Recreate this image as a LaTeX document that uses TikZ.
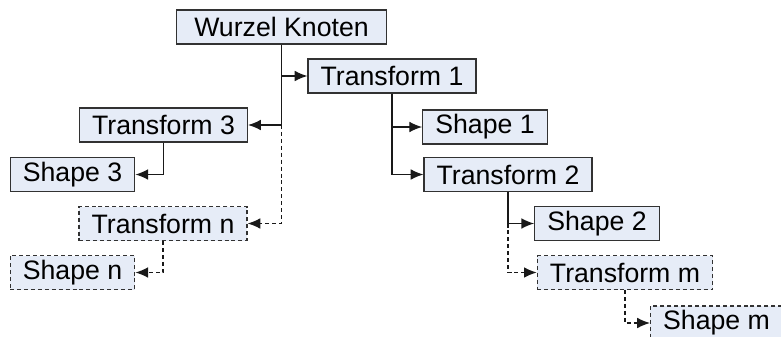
\documentclass[tikz,border=0pt]{standalone}
\usepackage{fontspec}
\setmainfont{Liberation Sans}
\usetikzlibrary{arrows.meta}
\definecolor{boxfill}{RGB}{230,236,247}
\definecolor{boxline}{RGB}{50,50,50}
\begin{document}
\begin{tikzpicture}[x=0.75pt,y=-0.75pt,
        box/.style={draw=boxline,fill=boxfill,line width=0.9pt,minimum height=25.5pt,
            inner xsep=9.5pt,inner ysep=0pt,font=\fontsize{20}{24}\selectfont},
        vbox/.style={box,dash pattern=on 3pt off 2.2pt},
        link/.style={draw=black!90,line width=0.9pt,-{Latex[length=9.5pt,width=8pt]}},
        vlink/.style={link,dash pattern=on 3pt off 2.2pt}]
            \useasboundingbox (0,0) rectangle (781,336);
            \node [box,minimum width=157pt] (root) at (281.5,27) {Wurzel Knoten};
            \node [box] (t1) at (392,76) {Transform 1};
            \node [box] (t3) at (163.5,125) {Transform 3};
            \node [box] (s1) at (485,127) {Shape 1};
            \node [box] (s3) at (72.5,174.5) {Shape 3};
            \node [box] (t2) at (508,174.5) {Transform 2};
            \node [vbox] (tn) at (163,223.5) {Transform n};
            \node [box] (s2) at (597,223.5) {Shape 2};
            \node [vbox] (sn) at (72.5,272.5) {Shape n};
            \node [vbox] (tm) at (625,272.5) {Transform m};
            \node [vbox] (sm) at (716.5,323) {Shape m};
            \coordinate (r3) at (root.south |- t3.east);
            \coordinate (t2m) at (t2.south |- s2.west);
            \draw [link] (root.south) |- (t1.west);
            \draw [link] (root.south) |- (t3.east);
            \draw [vlink] (r3) |- (tn.east);
            \draw [link] (t3.south) |- (s3.east);
            \draw [link] (t1.south) |- (s1.west);
            \draw [link] (t1.south) |- (t2.west);
            \draw [link] (t2.south) |- (s2.west);
            \draw [vlink] (t2m) |- (tm.west);
            \draw [vlink] (tn.south) |- (sn.east);
            \draw [vlink] (tm.south) |- (sm.west);
        \end{tikzpicture}
\end{document}
